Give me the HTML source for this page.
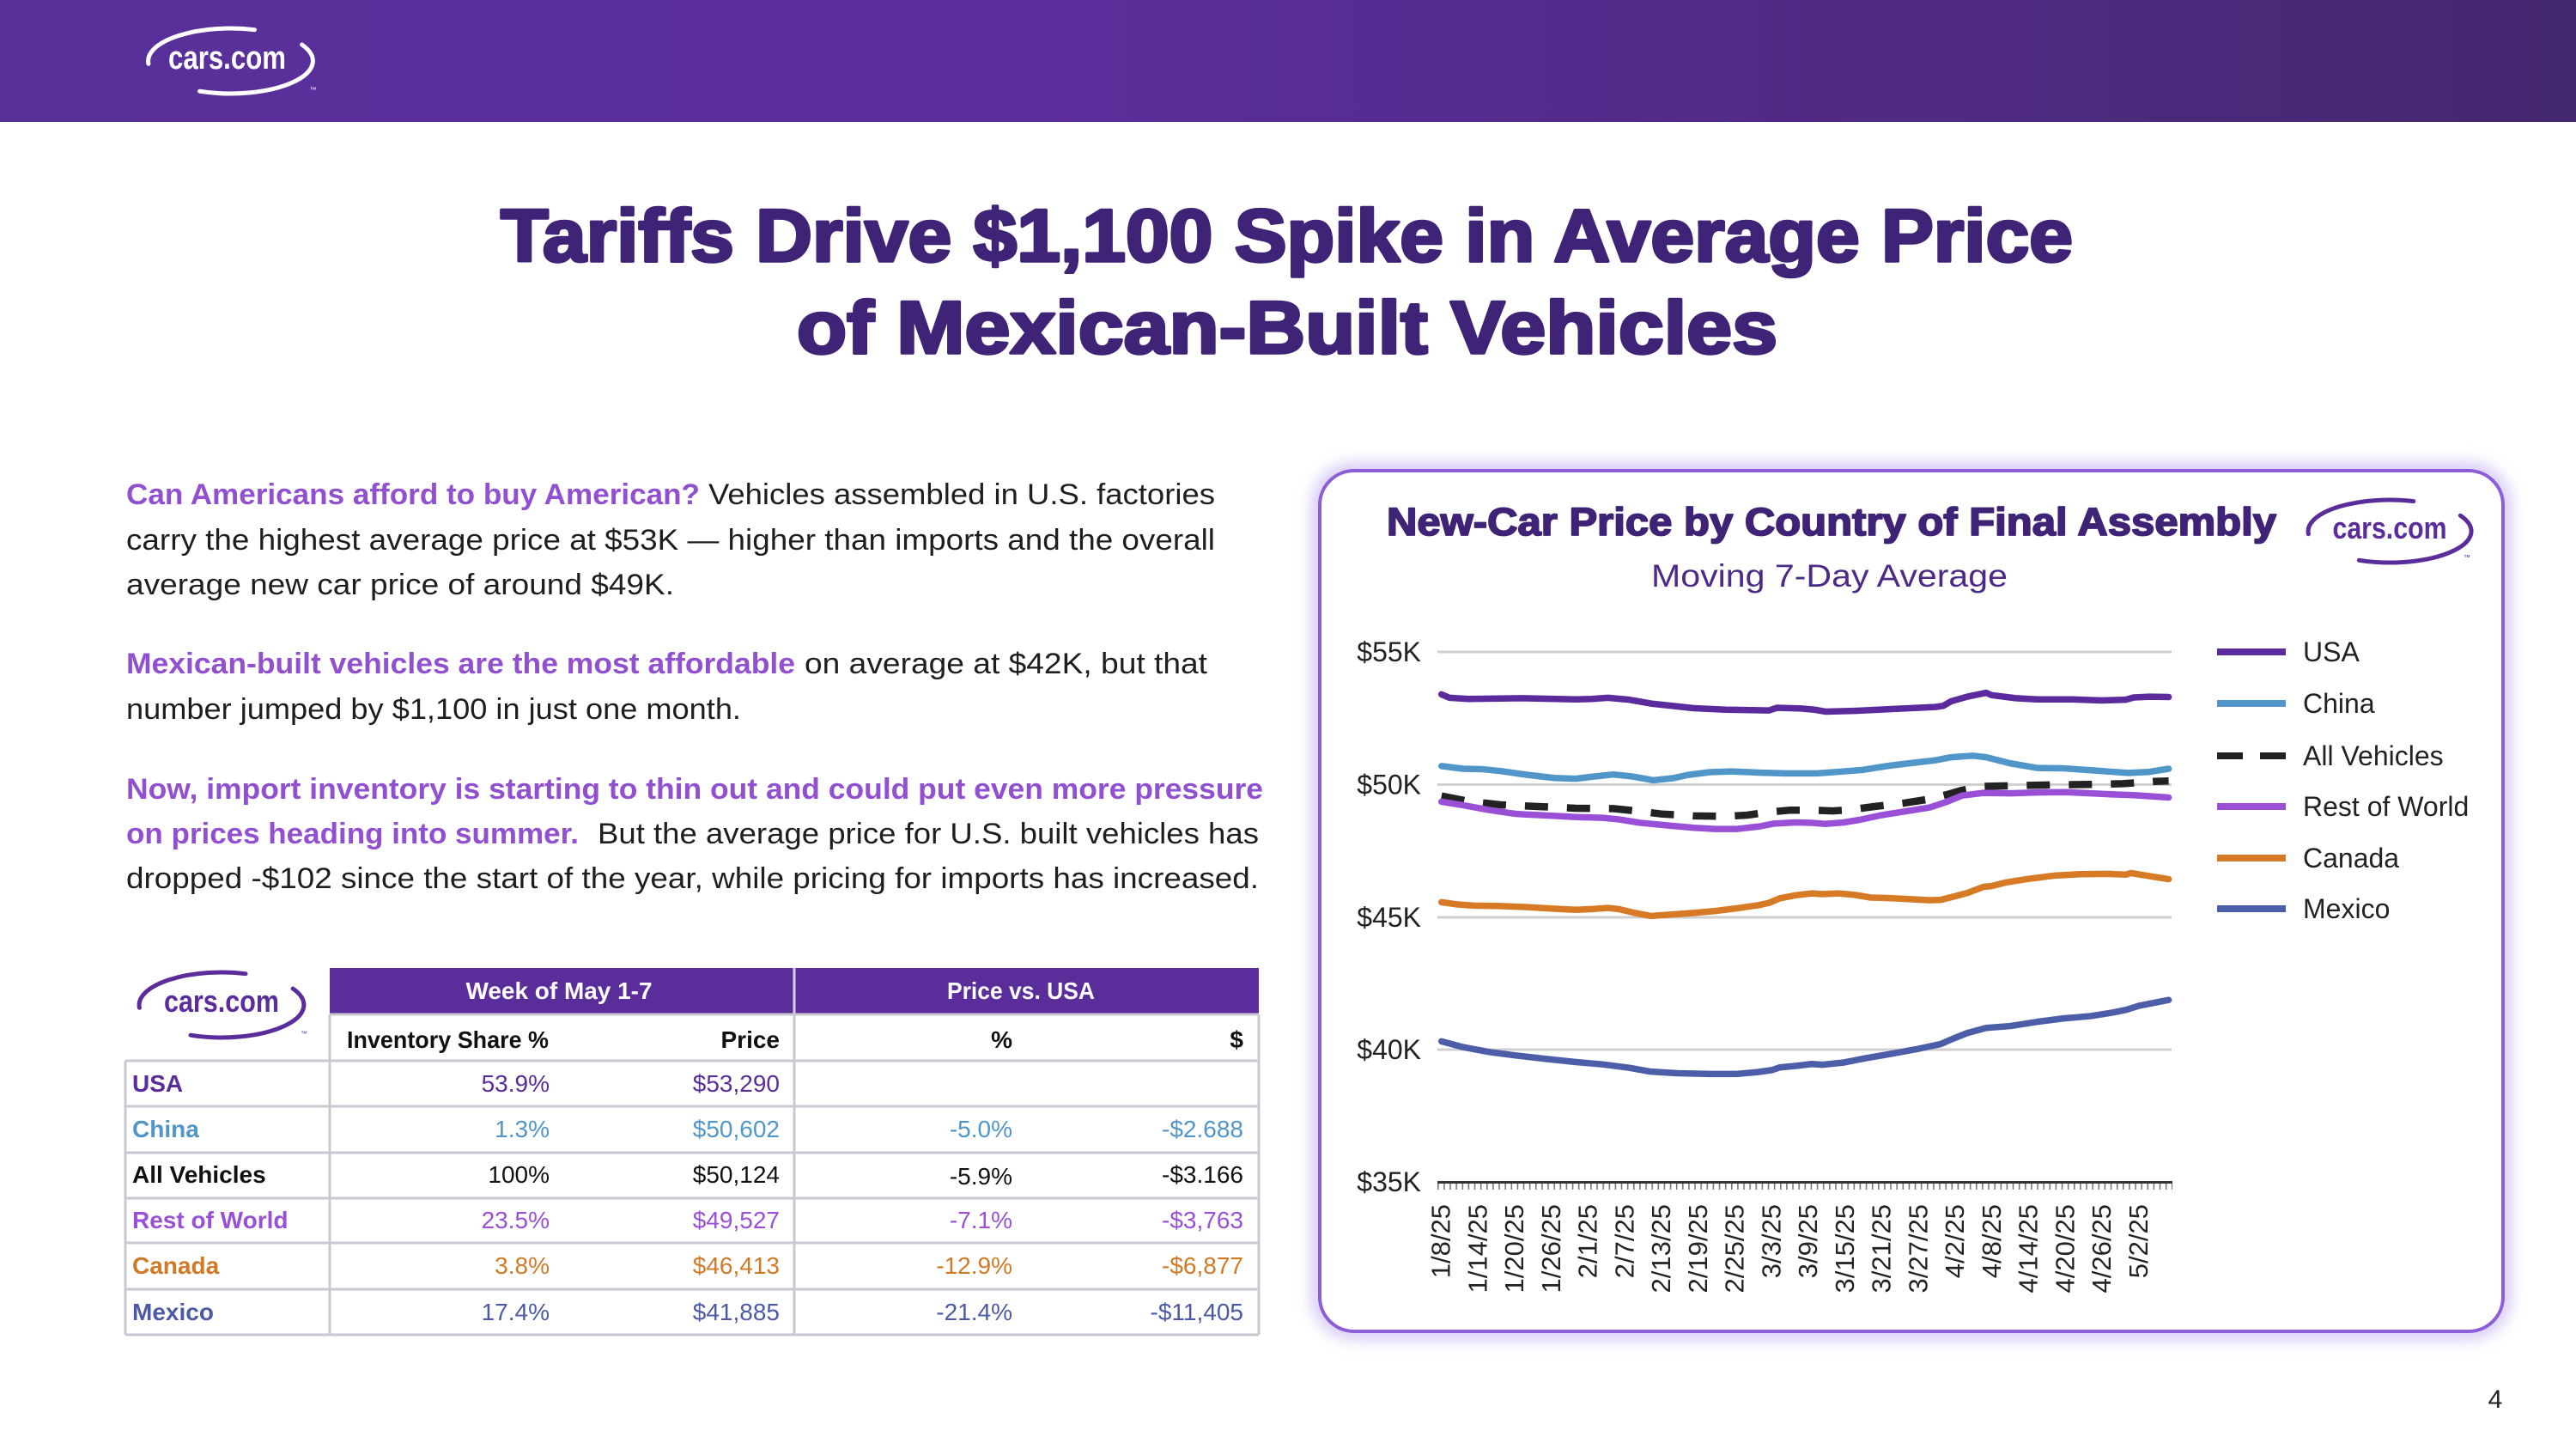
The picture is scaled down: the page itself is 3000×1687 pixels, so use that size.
<!DOCTYPE html>
<html>
<head>
<meta charset="utf-8">
<style>
html,body{margin:0;padding:0;background:#fff;}
svg{display:block;}
text{font-family:"Liberation Sans",Arial,sans-serif;}
</style>
</head>
<body>
<svg width="3000" height="1687" viewBox="0 0 3000 1687" xmlns="http://www.w3.org/2000/svg">
  <defs>
    <linearGradient id="hdr" x1="0" y1="0" x2="1" y2="0">
      <stop offset="0" stop-color="#58309a"/>
      <stop offset="0.4" stop-color="#5c2d9c"/>
      <stop offset="1" stop-color="#44286f"/>
    </linearGradient>
    <filter id="glow" x="-5%" y="-5%" width="110%" height="110%">
      <feGaussianBlur stdDeviation="9"/>
    </filter>
    <pattern id="ticks" x="1674" y="0" width="7.125" height="20" patternUnits="userSpaceOnUse">
      <rect x="0" y="0" width="1.6" height="20" fill="#777"/>
    </pattern>
  </defs>

  <!-- Header band -->
  <rect x="0" y="0" width="3000" height="142" fill="url(#hdr)"/>
  <g transform="translate(268.5,71)">
    <path d="M-95.6,3.3 A96,38 0 0 1 28,-36.3 M83.1,-19 A96,38 0 0 1 -36,35.2" fill="none" stroke="#fff" stroke-width="5" stroke-linecap="round"/>
    <text x="-4" y="9" font-size="38" font-weight="bold" fill="#fff" text-anchor="middle" textLength="137" lengthAdjust="spacingAndGlyphs">cars.com</text>
    <text x="92" y="36" font-size="8" fill="#fff">™</text>
  </g>

  <!-- Title -->
  <g stroke="#3f2376" stroke-width="3.5" stroke-linejoin="round">
  <text x="583" y="304" font-size="86" font-weight="bold" fill="#3f2376" textLength="1831" lengthAdjust="spacingAndGlyphs">Tariffs Drive $1,100 Spike in Average Price</text>
  <text x="928" y="411" font-size="86" font-weight="bold" fill="#3f2376" textLength="1142" lengthAdjust="spacingAndGlyphs">of Mexican-Built Vehicles</text>
  </g>

  <!-- Body text -->
  <g font-size="34">
    <text x="147" y="587" font-weight="bold" fill="#9150d0" textLength="668" lengthAdjust="spacingAndGlyphs">Can Americans afford to buy American?</text>
    <text x="825" y="587" fill="#1e1e1e" textLength="590" lengthAdjust="spacingAndGlyphs">Vehicles assembled in U.S. factories</text>
    <text x="147" y="640" fill="#1e1e1e" textLength="1268" lengthAdjust="spacingAndGlyphs">carry the highest average price at $53K — higher than imports and the overall</text>
    <text x="147" y="692" fill="#1e1e1e" textLength="638" lengthAdjust="spacingAndGlyphs">average new car price of around $49K.</text>

    <text x="147" y="784" font-weight="bold" fill="#9150d0" textLength="779" lengthAdjust="spacingAndGlyphs">Mexican-built vehicles are the most affordable</text>
    <text x="937" y="784" fill="#1e1e1e" textLength="469" lengthAdjust="spacingAndGlyphs">on average at $42K, but that</text>
    <text x="147" y="837" fill="#1e1e1e" textLength="716" lengthAdjust="spacingAndGlyphs">number jumped by $1,100 in just one month.</text>

    <text x="147" y="930" font-weight="bold" fill="#9150d0" textLength="1324" lengthAdjust="spacingAndGlyphs">Now, import inventory is starting to thin out and could put even more pressure</text>
    <text x="147" y="982" font-weight="bold" fill="#9150d0" textLength="527" lengthAdjust="spacingAndGlyphs">on prices heading into summer.</text>
    <text x="696" y="982" fill="#1e1e1e" textLength="770" lengthAdjust="spacingAndGlyphs">But the average price for U.S. built vehicles has</text>
    <text x="147" y="1034" fill="#1e1e1e" textLength="1319" lengthAdjust="spacingAndGlyphs">dropped -$102 since the start of the year, while pricing for imports has increased.</text>
  </g>

  <!-- Table -->
  <g transform="translate(258,1170)">
    <path d="M-95.6,3.3 A96,38 0 0 1 28,-36.3 M83.1,-19 A96,38 0 0 1 -36,35.2" fill="none" stroke="#5a2d9a" stroke-width="5" stroke-linecap="round"/>
    <text x="0" y="8" font-size="36" font-weight="bold" fill="#5a2d9a" text-anchor="middle" textLength="134" lengthAdjust="spacingAndGlyphs">cars.com</text>
    <text x="92" y="36" font-size="8" fill="#5a2d9a">™</text>
  </g>
  <rect x="384" y="1127" width="1082" height="54" fill="#5b2d9a"/>
  <line x1="925" y1="1127" x2="925" y2="1181" stroke="#d8d0ea" stroke-width="3"/>
  <g stroke="#c8c8d2" stroke-width="3">
    <line x1="384" y1="1181" x2="1466" y2="1181"/>
    <line x1="146" y1="1235" x2="1466" y2="1235"/>
    <line x1="146" y1="1288" x2="1466" y2="1288"/>
    <line x1="146" y1="1342" x2="1466" y2="1342"/>
    <line x1="146" y1="1395" x2="1466" y2="1395"/>
    <line x1="146" y1="1447" x2="1466" y2="1447"/>
    <line x1="146" y1="1501" x2="1466" y2="1501"/>
    <line x1="146" y1="1554" x2="1466" y2="1554"/>
    <line x1="146" y1="1235" x2="146" y2="1554"/>
    <line x1="384" y1="1181" x2="384" y2="1554"/>
    <line x1="925" y1="1181" x2="925" y2="1554"/>
    <line x1="1466" y1="1181" x2="1466" y2="1554"/>
  </g>
  <g font-size="28">
    <text x="651" y="1163" font-weight="bold" fill="#fff" text-anchor="middle" textLength="217" lengthAdjust="spacingAndGlyphs">Week of May 1-7</text>
    <text x="1189" y="1163" font-weight="bold" fill="#fff" text-anchor="middle" textLength="172" lengthAdjust="spacingAndGlyphs">Price vs. USA</text>
    <text x="404" y="1220" font-weight="bold" fill="#111" textLength="235" lengthAdjust="spacingAndGlyphs">Inventory Share %</text>
    <text x="908" y="1220" font-weight="bold" fill="#111" text-anchor="end">Price</text>
    <text x="1179" y="1220" font-weight="bold" fill="#111" text-anchor="end">%</text>
    <text x="1448" y="1220" font-weight="bold" fill="#111" text-anchor="end">$</text>

    <g fill="#5a2d9a">
      <text x="154" y="1271" font-weight="bold">USA</text>
      <text x="640" y="1271" text-anchor="end">53.9%</text>
      <text x="908" y="1271" text-anchor="end">$53,290</text>
    </g>
    <g fill="#5196c9">
      <text x="154" y="1324" font-weight="bold">China</text>
      <text x="640" y="1324" text-anchor="end">1.3%</text>
      <text x="908" y="1324" text-anchor="end">$50,602</text>
      <text x="1179" y="1324" text-anchor="end">-5.0%</text>
      <text x="1448" y="1324" text-anchor="end">-$2.688</text>
    </g>
    <g fill="#111">
      <text x="154" y="1377" font-weight="bold">All Vehicles</text>
      <text x="640" y="1377" text-anchor="end">100%</text>
      <text x="908" y="1377" text-anchor="end">$50,124</text>
      <text x="1179" y="1379" text-anchor="end">-5.9%</text>
      <text x="1448" y="1377" text-anchor="end">-$3.166</text>
    </g>
    <g fill="#9a50d6">
      <text x="154" y="1430" font-weight="bold">Rest of World</text>
      <text x="640" y="1430" text-anchor="end">23.5%</text>
      <text x="908" y="1430" text-anchor="end">$49,527</text>
      <text x="1179" y="1430" text-anchor="end">-7.1%</text>
      <text x="1448" y="1430" text-anchor="end">-$3,763</text>
    </g>
    <g fill="#d07a26">
      <text x="154" y="1483" font-weight="bold">Canada</text>
      <text x="640" y="1483" text-anchor="end">3.8%</text>
      <text x="908" y="1483" text-anchor="end">$46,413</text>
      <text x="1179" y="1483" text-anchor="end">-12.9%</text>
      <text x="1448" y="1483" text-anchor="end">-$6,877</text>
    </g>
    <g fill="#4c5aa6">
      <text x="154" y="1537" font-weight="bold">Mexico</text>
      <text x="640" y="1537" text-anchor="end">17.4%</text>
      <text x="908" y="1537" text-anchor="end">$41,885</text>
      <text x="1179" y="1537" text-anchor="end">-21.4%</text>
      <text x="1448" y="1537" text-anchor="end">-$11,405</text>
    </g>
  </g>

  <!-- Chart card -->
  <rect x="1537" y="548" width="1378" height="1002" rx="40" ry="40" fill="none" stroke="#cdbdf3" stroke-width="16" filter="url(#glow)"/>
  <rect x="1537" y="548" width="1378" height="1002" rx="40" ry="40" fill="#fff" stroke="#8b5ed8" stroke-width="4"/>

  <text x="1615" y="623" font-size="45" font-weight="bold" fill="#3f2376" stroke="#3f2376" stroke-width="1.8" stroke-linejoin="round" textLength="1036" lengthAdjust="spacingAndGlyphs">New-Car Price by Country of Final Assembly</text>
  <text x="1923" y="683" font-size="37" fill="#4d2a86" textLength="415" lengthAdjust="spacingAndGlyphs">Moving 7-Day Average</text>

  <g transform="translate(2783,618.5)">
    <path d="M-94.6,3.2 A95,36.5 0 0 1 27.8,-34.9 M82.3,-18.3 A95,36.5 0 0 1 -35.6,33.8" fill="none" stroke="#5a2d9a" stroke-width="5" stroke-linecap="round"/>
    <text x="0" y="8.5" font-size="36" font-weight="bold" fill="#5a2d9a" text-anchor="middle" textLength="133" lengthAdjust="spacingAndGlyphs">cars.com</text>
    <text x="86" y="33" font-size="8" fill="#5a2d9a">™</text>
  </g>

  <!-- Gridlines -->
  <g stroke="#cfcfcf" stroke-width="3">
    <line x1="1674" y1="759" x2="2529" y2="759"/>
    <line x1="1674" y1="913.5" x2="2529" y2="913.5"/>
    <line x1="1674" y1="1068" x2="2529" y2="1068"/>
    <line x1="1674" y1="1222" x2="2529" y2="1222"/>
  </g>
  <rect x="1674" y="1377" width="856" height="8" fill="url(#ticks)"/>
  <line x1="1674" y1="1376.5" x2="2530" y2="1376.5" stroke="#333" stroke-width="3"/>

  <!-- Y labels -->
  <g font-size="32" fill="#222" text-anchor="end">
    <text x="1655" y="770">$55K</text>
    <text x="1655" y="924.5">$50K</text>
    <text x="1655" y="1079">$45K</text>
    <text x="1655" y="1233">$40K</text>
    <text x="1655" y="1387">$35K</text>
  </g>

  <!-- X labels -->
  <g font-size="31" fill="#222" text-anchor="end">
    <text transform="translate(1688.6,1402) rotate(-90)">1/8/25</text>
    <text transform="translate(1731.4,1402) rotate(-90)">1/14/25</text>
    <text transform="translate(1774.1,1402) rotate(-90)">1/20/25</text>
    <text transform="translate(1816.9,1402) rotate(-90)">1/26/25</text>
    <text transform="translate(1859.6,1402) rotate(-90)">2/1/25</text>
    <text transform="translate(1902.4,1402) rotate(-90)">2/7/25</text>
    <text transform="translate(1945.1,1402) rotate(-90)">2/13/25</text>
    <text transform="translate(1987.9,1402) rotate(-90)">2/19/25</text>
    <text transform="translate(2030.6,1402) rotate(-90)">2/25/25</text>
    <text transform="translate(2073.4,1402) rotate(-90)">3/3/25</text>
    <text transform="translate(2116.1,1402) rotate(-90)">3/9/25</text>
    <text transform="translate(2158.9,1402) rotate(-90)">3/15/25</text>
    <text transform="translate(2201.6,1402) rotate(-90)">3/21/25</text>
    <text transform="translate(2244.4,1402) rotate(-90)">3/27/25</text>
    <text transform="translate(2287.1,1402) rotate(-90)">4/2/25</text>
    <text transform="translate(2329.9,1402) rotate(-90)">4/8/25</text>
    <text transform="translate(2372.6,1402) rotate(-90)">4/14/25</text>
    <text transform="translate(2415.4,1402) rotate(-90)">4/20/25</text>
    <text transform="translate(2458.1,1402) rotate(-90)">4/26/25</text>
    <text transform="translate(2500.9,1402) rotate(-90)">5/2/25</text>
  </g>

  <!-- Series (solid) -->
  <g transform="translate(1560 720) scale(0.625 0.44643)" fill="none" stroke-width="7.5" stroke-linejoin="round" stroke-linecap="round">
    <polyline vector-effect="non-scaling-stroke" stroke="#5b2a9c" points="190,198 205,207 240,210 340,208 440,211 470,210 500,207 540,212 580,222 660,234 720,238 800,240 815,233 860,235 885,238 905,243 960,241 1050,235 1110,231 1125,228 1140,216 1170,204 1205,194 1215,200 1260,208 1300,211 1360,211 1420,214 1465,212 1480,206 1510,204 1545,205"/>
    <polyline vector-effect="non-scaling-stroke" stroke="#5196c9" points="190,385 230,392 265,393 300,398 350,408 400,416 440,418 470,413 510,407 545,412 585,422 620,417 650,408 690,401 730,399 780,402 830,404 890,404 930,400 975,395 1020,385 1060,378 1110,370 1140,362 1180,358 1205,362 1250,378 1300,390 1350,391 1400,396 1440,400 1470,403 1510,400 1545,392"/>
  </g>
  <!-- All Vehicles dashed -->
  <polyline fill="none" stroke="#222" stroke-width="8.5" stroke-dasharray="27 22" points="1678.75,926.7 1710,932.9 1747.5,937 1785,938.75 1835,941 1878.75,941.4 1910,944.6 1935,947.7 1972.5,949.9 2010,950.4 2035,949 2060,945.4 2085,943.2 2110,943.2 2135,944.1 2153.75,942.8 2185,938.75 2216.25,935.2 2247.5,930.3 2266.25,925.4 2285,920 2310,915.5 2347.5,914.6 2391.25,913.75 2435,913.3 2472.5,912.4 2510,909.7 2525.6,909.3"/>
  <g transform="translate(1560 720) scale(0.625 0.44643)" fill="none" stroke-width="7.5" stroke-linejoin="round" stroke-linecap="round">
    <polyline vector-effect="non-scaling-stroke" stroke="#9a50d6" points="190,478 230,487 280,500 330,510 400,515 440,518 490,520 520,524 560,533 620,541 660,546 700,549 740,549 780,543 810,535 850,532 880,533 905,536 940,532 970,525 1010,513 1060,502 1100,493 1130,479 1160,462 1200,455 1250,456 1300,454 1350,453 1400,456 1440,459 1480,461 1545,467"/>
    <polyline vector-effect="non-scaling-stroke" stroke="#d67a25" points="190,740 220,746 250,749 300,750 350,753 400,757 440,760 470,758 500,755 520,758 550,768 580,776 620,772 660,768 700,763 740,756 780,748 800,742 820,730 850,722 880,717 900,719 930,717 960,721 990,728 1020,729 1060,732 1100,735 1120,734 1140,727 1170,716 1200,700 1215,698 1240,689 1280,680 1330,671 1380,667 1430,666 1465,668 1475,664 1500,670 1545,680"/>
    <polyline vector-effect="non-scaling-stroke" stroke="#4c5ea8" points="190,1103 230,1118 280,1131 330,1140 380,1148 440,1157 490,1163 540,1172 580,1182 630,1186 690,1188 740,1188 780,1183 805,1178 820,1171 850,1167 880,1162 900,1164 940,1158 980,1147 1030,1135 1080,1122 1120,1110 1145,1095 1170,1081 1205,1068 1250,1063 1300,1052 1350,1043 1400,1037 1440,1028 1465,1021 1490,1010 1545,995"/>
  </g>

  <!-- Legend -->
  <g stroke-width="8">
    <line x1="2582" y1="759" x2="2662" y2="759" stroke="#5b2a9c"/>
    <line x1="2582" y1="819" x2="2662" y2="819" stroke="#5196c9"/>
    <line x1="2582" y1="880" x2="2612" y2="880" stroke="#222"/>
    <line x1="2632" y1="880" x2="2662" y2="880" stroke="#222"/>
    <line x1="2582" y1="939" x2="2662" y2="939" stroke="#9a50d6"/>
    <line x1="2582" y1="999" x2="2662" y2="999" stroke="#d67a25"/>
    <line x1="2582" y1="1058" x2="2662" y2="1058" stroke="#4c5ea8"/>
  </g>
  <g font-size="32" fill="#222">
    <text x="2682" y="770">USA</text>
    <text x="2682" y="830">China</text>
    <text x="2682" y="891">All Vehicles</text>
    <text x="2682" y="950">Rest of World</text>
    <text x="2682" y="1010">Canada</text>
    <text x="2682" y="1069">Mexico</text>
  </g>

  <!-- Page number -->
  <text x="2906" y="1639" font-size="30" fill="#222" text-anchor="middle">4</text>
</svg>
</body>
</html>
